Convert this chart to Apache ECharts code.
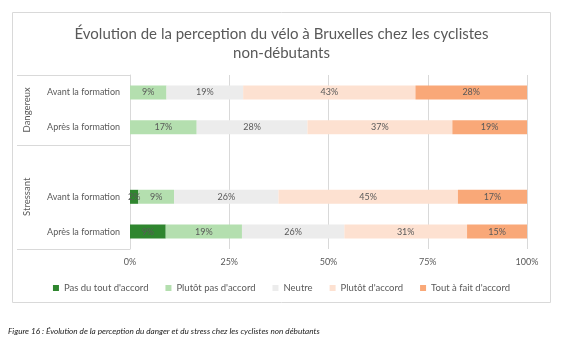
<!DOCTYPE html>
<html><head><meta charset="utf-8">
<script src="https://cdn.jsdelivr.net/npm/echarts@6/dist/echarts.min.js"></script>
<style>html,body{margin:0;padding:0;background:#fff}#c{width:563px;height:341px}</style>
</head><body><div id="c"></div>
<script>
var categories = ['Avant la formation', 'Après la formation', '', 'Avant la formation', 'Après la formation'];
var groups = ['Dangereux', 'Stressant'];
var seriesNames = ["Pas du tout d'accord", "Plutôt pas d'accord", 'Neutre', "Plutôt d'accord", "Tout à fait d'accord"];
var pasDuTout   = [0,    0,    null, 2.1,  9.0];
var plutotPas   = [9.2,  16.8, null, 9.0,  19.2];
var neutre      = [19.3, 27.9, null, 26.3, 25.8];
var plutot      = [43.4, 36.5, null, 45.2, 30.9];
var toutAFait   = [28.1, 18.8, null, 17.4, 15.1];
var tickLabels = ['0%', '25%', '50%', '75%', '100%'];
var colors = ['#2f862f', '#b4dfaf', '#ececec', '#fde1d1', '#f9a878'];

var font = 'Lato, "Open Sans", sans-serif';
var txt = '#595959';
var allData = [pasDuTout, plutotPas, neutre, plutot, toutAFait];
var chart = echarts.init(document.getElementById('c'), null, {renderer: 'canvas'});
var series = seriesNames.map(function (n, i) {
  return {
    name: n, type: 'bar', stack: 'total', barWidth: 14,
    itemStyle: {color: colors[i]},
    label: {
      show: true, position: 'inside', color: txt, fontSize: 9, fontFamily: font,
      formatter: function (p) { return (p.value ? Math.round(p.value) + '%' : ''); }
    },
    data: allData[i]
  };
});
chart.setOption({
  animation: false,
  title: [{
    text: 'Évolution de la perception du vélo à Bruxelles chez les cyclistes\nnon-débutants',
    left: 'center', top: 20,
    textStyle: {fontFamily: font, fontSize: 15, fontWeight: 'normal', color: txt, lineHeight: 19, align: 'center'}
  }, {
    text: 'Figure 16 : Évolution de la perception du danger et du stress chez les cyclistes non débutants',
    left: 3, top: 322,
    textStyle: {fontFamily: font, fontSize: 8.2, fontWeight: 'normal', fontStyle: 'italic', color: '#222'}
  }],
  legend: {
    top: 278, left: 'center', icon: 'rect', itemWidth: 6, itemHeight: 6, itemGap: 17,
    textStyle: {fontFamily: font, fontSize: 9.5, color: txt},
    data: seriesNames
  },
  grid: {left: 130, right: 36, top: 75, bottom: 92},
  xAxis: {
    type: 'value', min: 0, max: 100, interval: 25,
    axisLine: {show: false}, axisTick: {show: false},
    splitLine: {lineStyle: {color: '#d9d9d9', width: 1}},
    axisLabel: {margin: 9, color: txt, fontSize: 9, fontFamily: font,
      formatter: function (v) { return tickLabels[v / 25]; }}
  },
  yAxis: {
    type: 'category', inverse: true,
    data: categories.map(function (c, i) { return 'c' + i; }),
    axisLine: {show: true, lineStyle: {color: '#d9d9d9'}},
    axisTick: {show: false},
    axisLabel: {margin: 10, color: txt, fontSize: 9, fontFamily: font,
      formatter: function (v, i) { return categories[i]; }}
  },
  series: series
});

// category grouping lines and group labels, positioned from the axis scale
var y0 = chart.convertToPixel({yAxisIndex: 0}, 'c0');
var y1 = chart.convertToPixel({yAxisIndex: 0}, 'c1');
var band = y1 - y0;
var x0 = chart.convertToPixel({xAxisIndex: 0}, 0);
function b(i) { return y0 + (i - 0.5) * band; }
var groupBounds = [[0, 2], [2, 5]];
var gfx = [{
  type: 'rect', shape: {x: 12.5, y: 12.5, width: 538, height: 290},
  style: {fill: null, stroke: '#d9d9d9', lineWidth: 1}, silent: true
}];
[0, 2, 5].forEach(function (i) {
  gfx.push({type: 'line', shape: {x1: 17, y1: Math.round(b(i)) + 0.5, x2: x0, y2: Math.round(b(i)) + 0.5},
    style: {stroke: '#d9d9d9', lineWidth: 1}, silent: true});
});
groups.forEach(function (g, k) {
  var yc = (b(groupBounds[k][0]) + b(groupBounds[k][1])) / 2;
  gfx.push({type: 'text', x: 27, y: yc, rotation: Math.PI / 2,
    style: {text: g, fill: txt, font: '9.5px ' + font, align: 'center', verticalAlign: 'middle'}, silent: true});
});
chart.setOption({graphic: gfx});
</script>
</body></html>
